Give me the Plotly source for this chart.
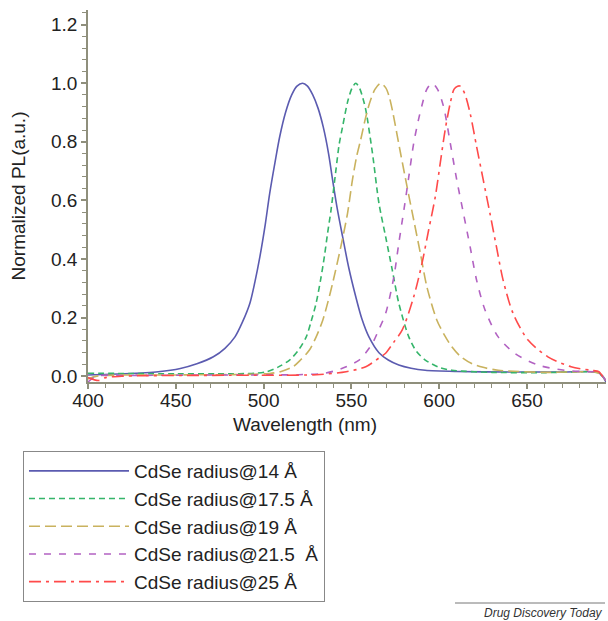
import plotly.graph_objects as go

# ---- data ----
names = ["CdSe radius@14 Å", "CdSe radius@17.5 Å", "CdSe radius@19 Å",
         "CdSe radius@21.5  Å", "CdSe radius@25 Å"]

wl_14 = [400, 420, 440, 452.6, 462, 471.4, 478, 483.7, 488, 492.2, 495, 497.9, 501, 503.5,
         506.5, 509.2, 512.5, 516, 519, 522.2, 525, 528, 531, 534, 537, 539.3, 542, 545, 548.5,
         552.5, 556, 560, 565.7, 571, 577, 584, 592, 610, 640, 670, 690, 693, 695]
pl_14 = [0.004, 0.008, 0.015, 0.026, 0.042, 0.066, 0.095, 0.134, 0.185, 0.249, 0.32, 0.408,
         0.52, 0.625, 0.73, 0.818, 0.9, 0.96, 0.99, 1.0, 0.99, 0.96, 0.915, 0.85, 0.76, 0.67,
         0.57, 0.476, 0.37, 0.271, 0.195, 0.134, 0.08, 0.055, 0.038, 0.027, 0.02, 0.016,
         0.014, 0.014, 0.013, 0.0, -0.02]

wl_175 = [400, 450, 480, 495, 501.6, 508, 514.8, 520, 524.3, 527, 529.9, 532.5, 534.6, 536.5,
          538.4, 541.2, 543, 545, 548, 550.5, 552.5, 554.5, 556.5, 558.2, 562, 565.7, 569.5,
          573.3, 577, 582.7, 587, 592.1, 600, 607.2, 630, 660, 690, 693, 695]
pl_175 = [0.01, 0.008, 0.008, 0.01, 0.015, 0.03, 0.055, 0.09, 0.134, 0.185, 0.249, 0.33, 0.408,
          0.49, 0.567, 0.704, 0.79, 0.852, 0.94, 0.985, 1.0, 0.985, 0.95, 0.909, 0.761, 0.59,
          0.476, 0.362, 0.249, 0.134, 0.085, 0.055, 0.03, 0.02, 0.013, 0.012, 0.012, 0.0,
          -0.015]

wl_19 = [400, 405, 450, 490, 503.5, 510, 516.7, 521, 526.1, 530, 533.7, 536.5, 539.3, 544,
         547.8, 550.6, 553, 555.3, 558, 560.5, 563.5, 566.7, 569.5, 571.5, 573.3, 578, 581.7,
         585.5, 589.3, 593, 598.7, 603, 607.2, 612, 618.5, 625, 633.6, 660, 690, 693, 695]
pl_19 = [-0.01, 0.0, 0.004, 0.006, 0.009, 0.016, 0.032, 0.055, 0.089, 0.135, 0.191, 0.25,
         0.317, 0.442, 0.556, 0.67, 0.75, 0.807, 0.88, 0.935, 0.98, 1.0, 0.985, 0.955, 0.909,
         0.761, 0.647, 0.533, 0.419, 0.305, 0.191, 0.14, 0.1, 0.068, 0.043, 0.03, 0.02, 0.013,
         0.012, 0.0, -0.015]

wl_215 = [400, 405, 420, 480, 520, 533.7, 540, 547, 554.4, 558.2, 562, 565.7, 569.5, 574.2,
          577, 579.9, 582.7, 585.5, 588, 590.2, 593, 595.9, 599, 602.5, 606.3, 610, 613.8,
          617.6, 621.3, 626.1, 633.6, 643, 656.2, 671.3, 685, 690, 693, 695]
pl_215 = [-0.02, 0.0, 0.002, 0.004, 0.005, 0.009, 0.017, 0.032, 0.055, 0.08, 0.112, 0.16,
          0.214, 0.339, 0.454, 0.567, 0.681, 0.796, 0.87, 0.925, 0.98, 1.0, 0.98, 0.92, 0.796,
          0.67, 0.556, 0.442, 0.328, 0.226, 0.134, 0.078, 0.038, 0.02, 0.015, 0.014, 0.0,
          -0.015]

wl_25 = [400, 406, 410, 420, 480, 530, 547, 558.2, 565.7, 569.5, 574, 578.9, 585.5, 590.2,
         594, 597.8, 600.6, 603.4, 606.3, 608.5, 610.5, 612, 614.5, 617.6, 621.3, 625.1,
         628.9, 632.6, 636.4, 642.1, 650.6, 661.9, 675.1, 686.4, 691, 693, 695]
pl_25 = [-0.005, -0.015, -0.005, 0.0, 0.003, 0.005, 0.015, 0.032, 0.062, 0.078, 0.115, 0.157,
         0.271, 0.385, 0.499, 0.613, 0.727, 0.841, 0.932, 0.98, 0.99, 0.99, 0.965, 0.898,
         0.784, 0.67, 0.556, 0.442, 0.328, 0.214, 0.123, 0.066, 0.032, 0.02, 0.015, 0.0,
         -0.015]

x_ticks = [400, 450, 500, 550, 600, 650]
y_ticks = [0.0, 0.2, 0.4, 0.6, 0.8, 1.0, 1.2]

series = [(wl_14, pl_14), (wl_175, pl_175), (wl_19, pl_19), (wl_215, pl_215), (wl_25, pl_25)]
colors = ["#5b5bb0", "#35b56a", "#c9b25e", "#b262c2", "#ff4a4a"]
dashes = ["solid", "6px,4px", "11px,5px", "7px,8px", "12px,5px,3px,5px"]

FONT = "Liberation Sans, Arial, sans-serif"
AX = "#8f8f7c"

fig = go.Figure()
for (x, y), nm, c, d in zip(series, names, colors, dashes):
    fig.add_trace(go.Scatter(x=x, y=y, mode="lines", name=nm,
                             line=dict(color=c, width=1.6, dash=d, shape="spline", smoothing=0.8)))

fig.update_layout(
    width=608, height=621,
    margin=dict(l=88, r=2, t=10, b=239),
    paper_bgcolor="white", plot_bgcolor="white",
    font=dict(family=FONT, size=19, color="#222222"),
    showlegend=True,
    legend=dict(x=-0.1255, y=-0.1855, xanchor="left", yanchor="top",
                bordercolor="#888888", borderwidth=1, bgcolor="white",
                font=dict(size=19, family=FONT, color="#222222"),
                itemwidth=100, tracegroupgap=0),
)
fig.update_xaxes(range=[400, 695], tickvals=x_ticks, ticktext=[str(v) for v in x_ticks],
                 showgrid=False, zeroline=False, showline=True, linecolor=AX, linewidth=1.5,
                 ticks="outside", ticklen=5, tickcolor=AX, tickwidth=1.5,
                 minor=dict(dtick=10, ticks="outside", ticklen=4, tickcolor=AX, tickwidth=1),
                 tickfont=dict(size=19), ticklabelstandoff=-5)
fig.update_yaxes(range=[-0.02, 1.25], tickvals=y_ticks, ticktext=[f"{v:.1f}" for v in y_ticks],
                 showgrid=False, zeroline=False, showline=True, linecolor=AX, linewidth=1.5,
                 ticks="outside", ticklen=5, tickcolor=AX, tickwidth=1.5,
                 minor=dict(dtick=0.04, ticks="outside", ticklen=4, tickcolor=AX, tickwidth=1),
                 tickfont=dict(size=19),
                 title=dict(text="Normalized PL(a.u.)", font=dict(size=19), standoff=20))

fig.add_annotation(text="Wavelength (nm)", xref="paper", yref="paper",
                   x=(305 - 88) / 518, y=(382 - 425) / 372, xanchor="center", yanchor="middle",
                   showarrow=False, font=dict(size=19, family=FONT, color="#222222"))
fig.add_annotation(text="<i>Drug Discovery Today</i>", xref="paper", yref="paper",
                   x=(605 - 88) / 518, y=(382 - 613) / 372, xanchor="right", yanchor="middle",
                   showarrow=False, font=dict(size=12, family=FONT, color="#333333"))
fig.add_shape(type="line", xref="paper", yref="paper",
              x0=(455 - 88) / 518, x1=(605 - 88) / 518,
              y0=(382 - 603) / 372, y1=(382 - 603) / 372,
              line=dict(color="#777777", width=1))

fig.write_html("out.html")
